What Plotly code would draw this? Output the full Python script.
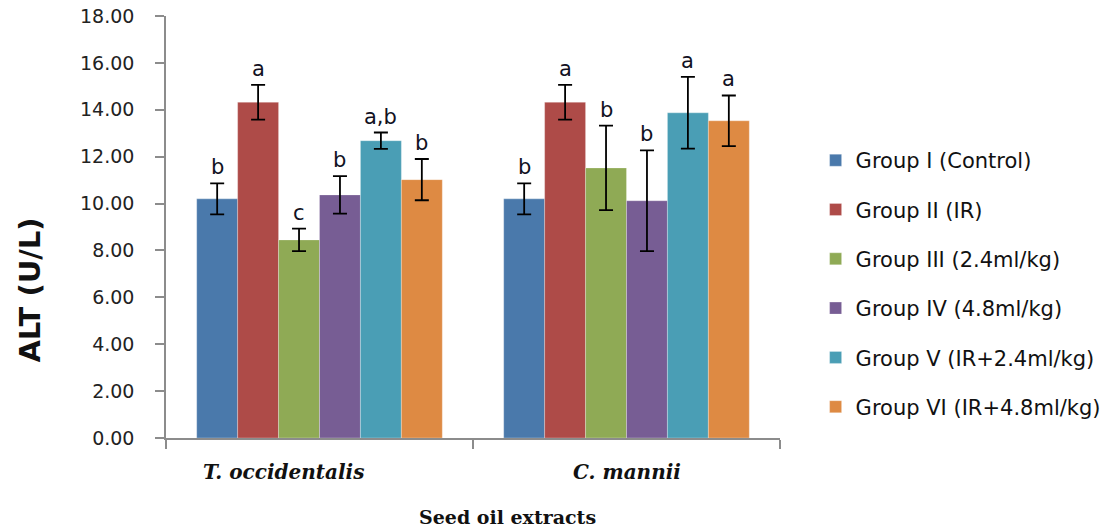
import plotly.graph_objects as go

categories = ["T. occidentalis", "C. mannii"]
groups = ["Group I (Control)", "Group II (IR)", "Group III (2.4ml/kg)",
          "Group IV (4.8ml/kg)", "Group V (IR+2.4ml/kg)", "Group VI (IR+4.8ml/kg)"]
colors = ["#4A79AB", "#AE4B48", "#8FAA55", "#775D94", "#4A9EB5", "#DE8A43"]

# values per group: [T. occidentalis, C. mannii]
g1 = [10.20, 10.20]
g2 = [14.32, 14.32]
g3 = [8.45, 11.52]
g4 = [10.37, 10.12]
g5 = [12.68, 13.87]
g6 = [11.02, 13.53]
values = [g1, g2, g3, g4, g5, g6]

e1 = [0.66, 0.66]
e2 = [0.74, 0.74]
e3 = [0.48, 1.80]
e4 = [0.80, 2.15]
e5 = [0.35, 1.53]
e6 = [0.88, 1.08]
errors = [e1, e2, e3, e4, e5, e6]

l1 = ["b", "b"]
l2 = ["a", "a"]
l3 = ["c", "b"]
l4 = ["b", "b"]
l5 = ["a,b", "a"]
l6 = ["b", "a"]
letters = [l1, l2, l3, l4, l5, l6]

fig = go.Figure()
for gi, name in enumerate(groups):
    fig.add_trace(go.Bar(
        x=categories, y=values[gi], name=name,
        marker=dict(color=colors[gi], line=dict(color="rgba(255,255,255,0.35)", width=0.8)),
        error_y=dict(type="data", array=errors[gi], visible=True,
                     color="black", thickness=1.8, width=7),
        legendgroup=name,
    ))

n = len(groups)
gw = 0.8
annotations = []
for gi in range(n):
    for ci in range(len(categories)):
        annotations.append(dict(
            x=ci + (gi - (n - 1) / 2) * gw / n, y=values[gi][ci] + errors[gi][ci],
            xref="x", yref="y", text=letters[gi][ci], showarrow=False,
            yanchor="bottom", yshift=2,
            font=dict(family="DejaVu Sans", size=21, color="#111122"),
        ))

cat_shift = [-36, 0]
for ci, c in enumerate(categories):
    annotations.append(dict(
        x=ci, y=0, xref="x", yref="paper", text="<b><i>%s</i></b>" % c,
        showarrow=False, yanchor="middle", yshift=-34, xshift=cat_shift[ci],
        font=dict(family="DejaVu Serif", size=20, color="#111"),
    ))

annotations.append(dict(
    x=0.557, y=0, xref="paper", yref="paper", text="<b>Seed oil extracts</b>",
    showarrow=False, yanchor="middle", yshift=-79,
    font=dict(family="DejaVu Serif", size=19, color="#111"),
))
annotations.append(dict(
    x=-0.222, y=0.351, xref="paper", yref="paper", text="<b>ALT (U/L)</b>",
    showarrow=False, textangle=-90, xanchor="center", yanchor="middle",
    font=dict(family="DejaVu Sans", size=29, color="#111"),
))

fig.update_layout(
    width=1118, height=530,
    margin=dict(l=166, r=326, t=16, b=92),
    paper_bgcolor="white", plot_bgcolor="white",
    barmode="group", bargap=0.2, bargroupgap=0,
    annotations=annotations,
    legend=dict(x=1.058, y=0.706, xanchor="left", yanchor="top",
                font=dict(family="DejaVu Sans", size=21, color="#111"),
                traceorder="grouped", tracegroupgap=19, bgcolor="rgba(0,0,0,0)"),
    xaxis=dict(showline=True, linecolor="#8c8c8c", linewidth=1.5, ticks="outside",
               tickson="boundaries", ticklen=9, tickcolor="#8c8c8c", tickwidth=1.5,
               showticklabels=False, showgrid=False, zeroline=False, automargin=False),
    yaxis=dict(range=[0, 18], dtick=2, tickformat=".2f", showline=True,
               linecolor="#8c8c8c", linewidth=1.5, ticks="outside", ticklen=9,
               tickcolor="#8c8c8c", tickwidth=1.5, showgrid=False, zeroline=False,
               ticklabelstandoff=17, automargin=False,
               tickfont=dict(family="DejaVu Sans", size=19, color="#222")),
)

fig.write_html("out.html", config={"displayModeBar": False},
               post_script="document.body.style.margin='0px';")
